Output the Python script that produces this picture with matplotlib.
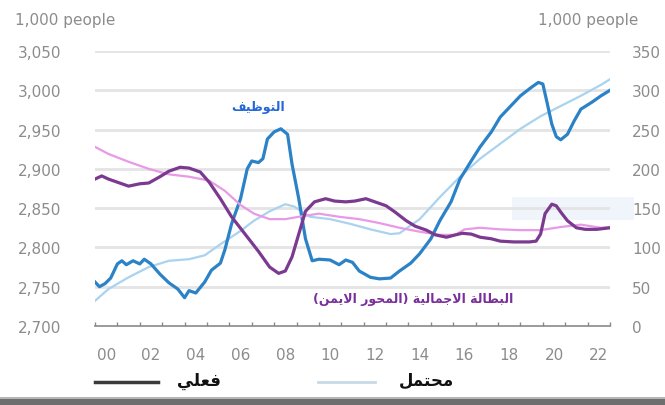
import matplotlib
matplotlib.use("Agg")
import matplotlib.pyplot as plt
from matplotlib.patches import Rectangle

# ---- data (thousand people) ----
emp_years = [2000.0, 2000.2, 2000.45, 2000.7, 2001.0, 2001.2, 2001.4, 2001.7, 2002.0, 2002.2,
             2002.5, 2002.9, 2003.3, 2003.7, 2004.0, 2004.2, 2004.5, 2004.9, 2005.2, 2005.6,
             2005.8, 2006.1, 2006.5, 2006.8, 2007.0, 2007.3, 2007.5, 2007.7, 2008.0, 2008.3,
             2008.6, 2008.8, 2009.1, 2009.4, 2009.7, 2010.0, 2010.5, 2010.9, 2011.2, 2011.5,
             2011.8, 2012.3, 2012.7, 2013.2, 2013.6, 2014.1, 2014.5, 2015.0, 2015.4, 2015.9,
             2016.3, 2016.8, 2017.2, 2017.7, 2018.1, 2018.6, 2019.0, 2019.5, 2019.8, 2020.0,
             2020.2, 2020.4, 2020.6, 2020.8, 2021.1, 2021.4, 2021.7, 2022.2, 2022.6, 2023.0]
emp_actual = [2756, 2750, 2754, 2761, 2779, 2783, 2778, 2783, 2779, 2785,
              2779, 2766, 2755, 2747, 2736, 2745, 2742, 2756, 2771, 2780,
              2797, 2830, 2862, 2900, 2910, 2908, 2913, 2938, 2947, 2951,
              2944, 2906, 2862, 2811, 2783, 2785, 2784, 2778, 2784, 2781,
              2770, 2762, 2760, 2761, 2770, 2780, 2792, 2811, 2834, 2858,
              2887, 2910, 2928, 2947, 2966, 2981, 2993, 3004, 3010, 3008,
              2983, 2957, 2941, 2937, 2944, 2961, 2976, 2985, 2993, 3000]

pot_years = [2000.0, 2000.6, 2001.5, 2002.4, 2003.3, 2004.2, 2004.9, 2005.6, 2006.5, 2007.1,
             2007.8, 2008.5, 2008.9, 2009.6, 2010.5, 2011.4, 2012.3, 2013.2, 2013.6, 2014.5,
             2015.4, 2016.3, 2017.2, 2018.1, 2019.0, 2019.9, 2020.8, 2021.7, 2022.6, 2023.0]
emp_potential = [2732, 2747, 2762, 2775, 2783, 2785, 2790, 2804, 2821, 2834,
                 2846, 2855, 2852, 2839, 2836, 2830, 2823, 2817, 2818, 2836,
                 2864, 2890, 2913, 2932, 2951, 2967, 2980, 2993, 3007, 3014]

unemp_years = [2000.0, 2000.3, 2000.6, 2001.1, 2001.5, 2002.0, 2002.4, 2002.9, 2003.3, 2003.8,
               2004.2, 2004.7, 2005.1, 2005.6, 2006.1, 2006.7, 2007.3, 2007.8, 2008.2, 2008.5,
               2008.8, 2009.1, 2009.4, 2009.8, 2010.3, 2010.7, 2011.2, 2011.6, 2012.1, 2012.5,
               2013.0, 2013.4, 2013.9, 2014.3, 2014.8, 2015.2, 2015.7, 2016.1, 2016.4, 2016.8,
               2017.2, 2017.7, 2018.1, 2018.7, 2019.4, 2019.7, 2019.9, 2020.1, 2020.4, 2020.6,
               2020.8, 2021.1, 2021.5, 2021.9, 2022.4, 2023.0]
unemp_actual = [187, 191, 187, 182, 178, 181, 182, 190, 197, 202,
                201, 196, 183, 162, 139, 117, 95, 75, 67, 70,
                88, 117, 146, 158, 162, 159, 158, 159, 162, 158,
                153, 145, 134, 127, 122, 116, 113, 116, 118, 117,
                113, 111, 108, 107, 107, 108, 117, 143, 155, 153,
                145, 134, 125, 123, 123, 125]

unemp_pot_years = [2000.0, 2000.6, 2001.5, 2002.4, 2003.3, 2004.2, 2005.1, 2005.8, 2006.5, 2007.1,
                   2007.8, 2008.5, 2009.1, 2010.0, 2010.9, 2011.8, 2012.7, 2013.6, 2014.5, 2015.4,
                   2016.1, 2016.5, 2017.2, 2018.1, 2019.0, 2019.9, 2020.8, 2021.7, 2022.6, 2023.0]
unemp_potential = [228, 219, 209, 200, 193, 190, 185, 172, 154, 143,
                   136, 136, 139, 143, 139, 136, 131, 125, 120, 116,
                   116, 123, 125, 123, 122, 122, 126, 129, 125, 126]

year_labels = ["00", "02", "04", "06", "08", "10", "12", "14", "16", "18", "20", "22"]
left_ticks = [2700, 2750, 2800, 2850, 2900, 2950, 3000, 3050]
right_ticks = [0, 50, 100, 150, 200, 250, 300, 350]

# Arabic text, pre-shaped into presentation forms in visual order
label_employment = "\uFED2\uFEF4\uFEC7\uFEEE\uFE98\uFEDF\uFE8D"             # التوظيف
label_unemployment = ("(" + "\uFEE6\uFEE4\uFEF3\uFEFB\uFE8D" + " "
                      + "\uFEAD\uFEEE\uFEA4\uFEE4\uFEDF\uFE8D" + ") "
                      + "\uFE94\uFEF4\uFEDF\uFE8E\uFEE4\uFE9F\uFEFB\uFE8D" + " "
                      + "\uFE94\uFEDF\uFE8E\uFEC4\uFE92\uFEDF\uFE8D")         # البطالة الاجمالية (المحور الايمن)
label_actual = "\uFEF2\uFEE0\uFECC\uFED3"                                   # فعلي
label_potential = "\uFEDE\uFEE4\uFE98\uFEA4\uFEE3"                          # محتمل

# ---- colours ----
c_emp = "#2b82c6"
c_emp_pot = "#a9d3ef"
c_unemp = "#7b3a90"
c_unemp_pot = "#e79ae6"
c_grid = "#e4e4e4"
c_tick = "#8c8c8c"

plt.rcParams["font.family"] = ["DejaVu Sans"]

W, H = 665, 406
fig = plt.figure(figsize=(W / 100, H / 100), dpi=100)
fig.patch.set_facecolor("white")

ax = fig.add_axes([95 / W, 1 - 327 / H, (610 - 95) / W, (327 - 52) / H])
ax2 = ax.twinx()

# faint highlight box on the right, behind the lines
fig.patches.append(Rectangle((512 / W, 1 - 221 / H), 122 / W, 23 / H,
                             transform=fig.transFigure, facecolor="#f0f5fb",
                             edgecolor="none", zorder=-1))

ax.set_xlim(2000, 2023)
ax.set_ylim(2700, 3050)
ax2.set_ylim(0, 350)

for y in left_ticks[1:]:
    ax.axhline(y, color=c_grid, lw=2, zorder=0)

ax.plot(pot_years, emp_potential, color=c_emp_pot, lw=1.6, zorder=3)
ax.plot(emp_years, emp_actual, color=c_emp, lw=2.3, zorder=4)
ax2.plot(unemp_pot_years, unemp_potential, color=c_unemp_pot, lw=1.6, zorder=3)
ax2.plot(unemp_years, unemp_actual, color=c_unemp, lw=2.3, zorder=4)

ax.set_facecolor("none")
ax2.set_facecolor("none")
for a in (ax, ax2):
    for s in ("top", "left", "right", "bottom"):
        a.spines[s].set_visible(False)
ax.spines["bottom"].set_visible(True)
ax.spines["bottom"].set_color("#8a8a8a")
ax.spines["bottom"].set_linewidth(1.2)

# year ticks at boundaries, labels centred in each year
ax.set_xticks(range(2000, 2024))
ax.set_xticklabels([])
ax.tick_params(axis="x", which="major", direction="in", length=3, color="#8a8a8a", width=1)
ax.set_xticks([2000.5 + 2 * i for i in range(len(year_labels))], minor=True)
ax.set_xticklabels(year_labels, minor=True)
ax.tick_params(axis="x", which="minor", length=0, pad=15, labelsize=11, labelcolor=c_tick)

ax.set_yticks(left_ticks)
ax.set_yticklabels([f"{v:,}" for v in left_ticks])
ax.tick_params(axis="y", length=0, pad=24, labelsize=11, labelcolor=c_tick)
ax2.set_yticks(right_ticks)
ax2.set_yticklabels([str(v) for v in right_ticks])
ax2.tick_params(axis="y", length=0, pad=16, labelsize=11, labelcolor=c_tick)

fig.text(15 / W, 1 - 20 / H, "1,000 people", fontsize=11, color=c_tick, va="center", ha="left")
fig.text(538 / W, 1 - 20 / H, "1,000 people", fontsize=11, color=c_tick, va="center", ha="left")

fig.text(258 / W, 1 - 108 / H, label_employment, fontsize=9, color="#2468d8",
         fontweight="bold", ha="center", va="center")
fig.text(413 / W, 1 - 300 / H, label_unemployment, fontsize=9, color="#7a2f9a",
         fontweight="bold", ha="center", va="center")

# legend row
fig.add_artist(plt.Line2D([95 / W, 158 / W], [1 - 383 / H] * 2, color="#3a3a3a", lw=2.5))
fig.text(199 / W, 1 - 381 / H, label_actual, fontsize=12, fontweight="bold",
         color="#111111", ha="center", va="center")
fig.add_artist(plt.Line2D([318 / W, 375 / W], [1 - 383 / H] * 2, color="#c9dae6", lw=2))
fig.text(426 / W, 1 - 381 / H, label_potential, fontsize=12, fontweight="bold",
         color="#111111", ha="center", va="center")

# bottom frame shadow
fig.patches.append(Rectangle((0, 0), 1, 6 / H, transform=fig.transFigure,
                             facecolor="#6e6e6e", edgecolor="none"))
fig.patches.append(Rectangle((0, 6 / H), 1, 2 / H, transform=fig.transFigure,
                             facecolor="#b5b5b5", edgecolor="none"))

fig.savefig("out.png", dpi=100)
